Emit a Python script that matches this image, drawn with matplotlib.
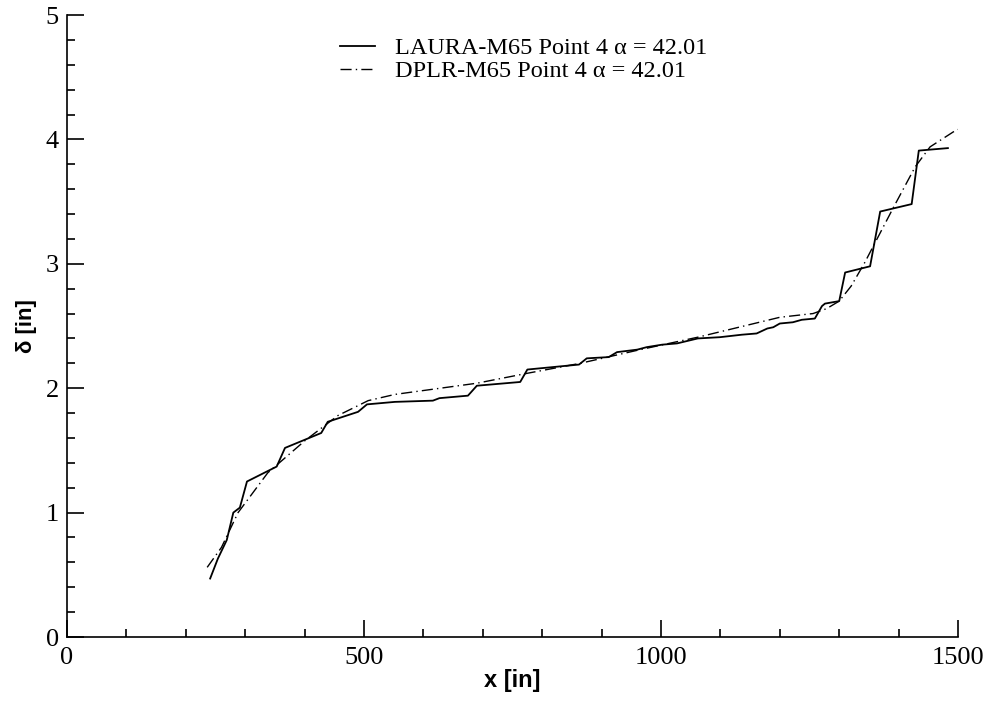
import matplotlib
matplotlib.use("Agg")
import matplotlib.pyplot as plt
from matplotlib.ticker import MultipleLocator

laura_x = [241, 254, 269, 280, 291, 303, 353, 367, 428, 439, 490, 505, 552, 616, 627, 675,
           690, 763, 775, 862, 875, 912, 926, 960, 976, 1002, 1027, 1062, 1099, 1136, 1161,
           1179, 1189, 1200, 1222, 1237, 1259, 1271, 1276, 1300, 1310, 1352, 1369, 1422,
           1434, 1483]
laura_y = [0.47, 0.63, 0.78, 1.00, 1.04, 1.25, 1.37, 1.52, 1.64, 1.73, 1.81, 1.87, 1.89, 1.90,
           1.92, 1.94, 2.02, 2.05, 2.15, 2.19, 2.24, 2.25, 2.29, 2.31, 2.33, 2.35, 2.36, 2.40,
           2.41, 2.43, 2.44, 2.48, 2.49, 2.52, 2.53, 2.55, 2.56, 2.66, 2.68, 2.70, 2.93, 2.98,
           3.42, 3.48, 3.91, 3.93]

dplr_x = [236, 260, 288, 338, 401, 456, 507, 552, 690, 775, 864, 965, 1062, 1200, 1256,
          1279, 1300, 1320, 1343, 1391, 1428, 1453, 1492, 1500]
dplr_y = [0.56, 0.72, 1.00, 1.32, 1.58, 1.78, 1.90, 1.95, 2.04, 2.12, 2.20, 2.31, 2.41,
          2.57, 2.60, 2.64, 2.70, 2.82, 3.01, 3.45, 3.78, 3.94, 4.06, 4.08]

laura_label = "LAURA-M65 Point 4 \u03b1 = 42.01"
dplr_label = "DPLR-M65 Point 4 \u03b1 = 42.01"

fig = plt.figure(figsize=(9.87, 7.04), dpi=100)
ax = fig.add_axes([67/987, 1 - 637/704, (958 - 67)/987, (637 - 15)/704])

ax.plot(laura_x, laura_y, color="black", lw=1.3, label=laura_label)
ax.plot(dplr_x, dplr_y, color="black", lw=1.0, linestyle=(0, (8, 3, 1, 3)), label=dplr_label)

ax.set_xlim(0, 1500)
ax.set_ylim(0, 5)
ax.xaxis.set_major_locator(MultipleLocator(500))
ax.xaxis.set_minor_locator(MultipleLocator(100))
ax.yaxis.set_major_locator(MultipleLocator(1))
ax.yaxis.set_minor_locator(MultipleLocator(0.2))

for s in ["top", "right"]:
    ax.spines[s].set_visible(False)
for s in ["left", "bottom"]:
    ax.spines[s].set_linewidth(1.2)

ax.tick_params(which="major", direction="in", length=12, width=1.2)
ax.tick_params(which="minor", direction="in", length=6, width=1.2)
ax.tick_params(axis="x", which="major", pad=7)
ax.tick_params(axis="y", which="major", pad=6)
for lab in ax.get_xticklabels() + ax.get_yticklabels():
    lab.set_fontfamily("Liberation Serif")
    lab.set_fontsize(19)

ax.set_xlabel("x [in]", fontfamily="Liberation Sans", fontweight="bold", fontsize=17, labelpad=0)
ax.set_ylabel("\u03b4 [in]", fontfamily="Liberation Sans", fontweight="bold", fontsize=16, labelpad=6)

leg = ax.legend(loc="upper left", bbox_to_anchor=(340/987, 1 - 37/704), bbox_transform=fig.transFigure,
                frameon=False, prop={"family": "Liberation Serif", "size": 17.5},
                handlelength=1.45, handletextpad=0.8, labelspacing=0.05, borderaxespad=0,
                borderpad=0)

fig.savefig("out.png", dpi=100)
